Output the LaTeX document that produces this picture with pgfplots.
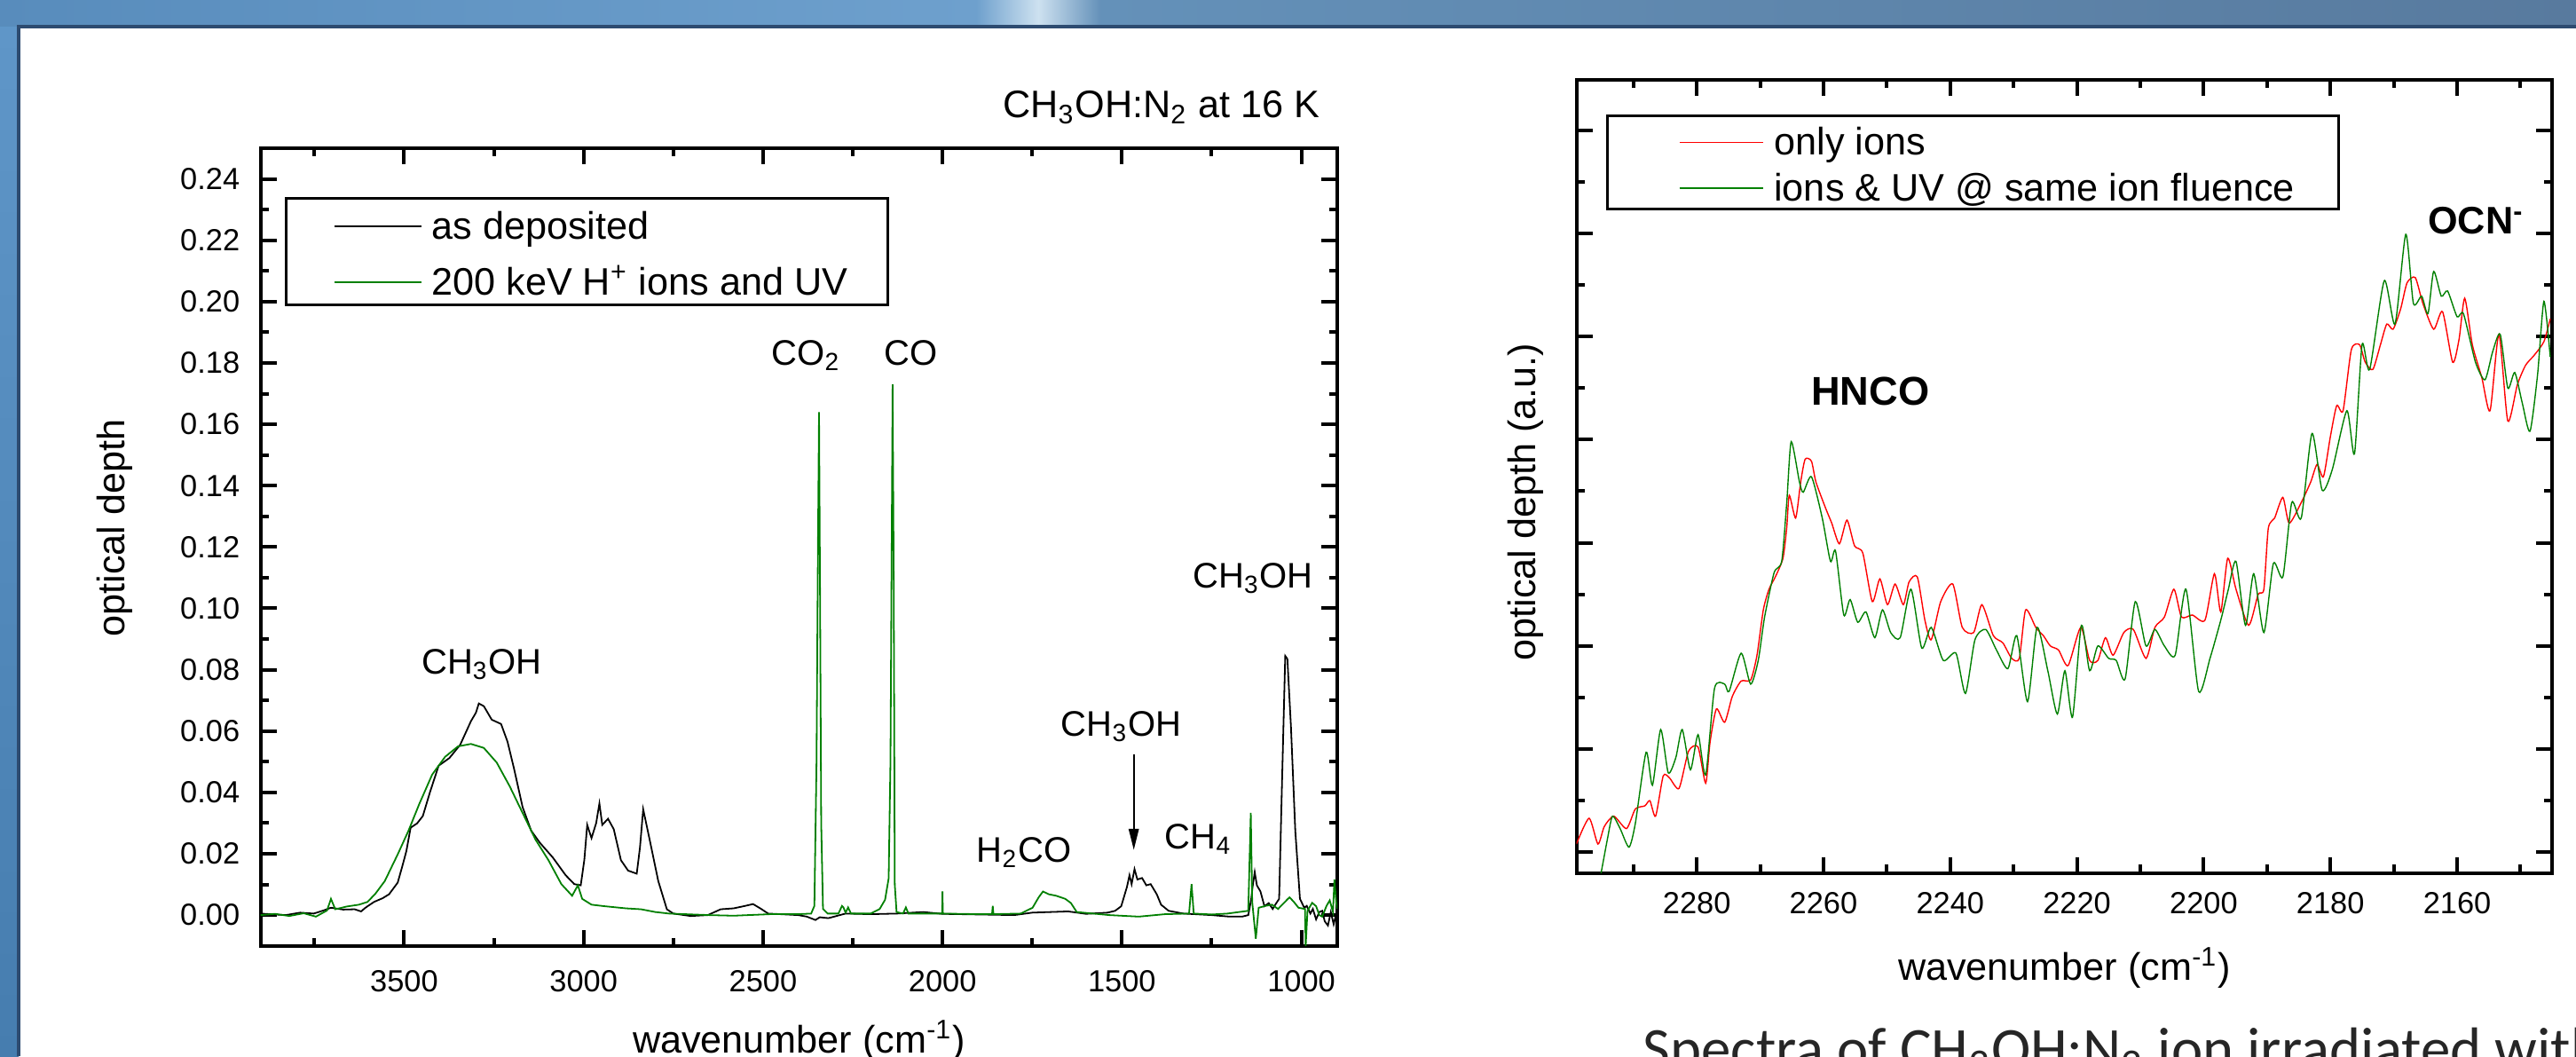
\documentclass[border=0pt]{standalone}
\usepackage{pgfplots}
\pgfplotsset{compat=1.18}
\usetikzlibrary{arrows.meta}
\usepackage{fontspec}
\setmainfont{Liberation Sans}
\newfontfamily\slidefont{Carlito}
\newcommand{\fs}[1]{\fontsize{#1}{#1}\selectfont}

\definecolor{spgreen}{RGB}{0,128,0}
\definecolor{topA}{RGB}{88,140,188}
\definecolor{topB}{RGB}{110,160,205}
\definecolor{glow}{RGB}{205,225,240}
\definecolor{topC}{RGB}{100,145,185}
\definecolor{topD}{RGB}{88,122,158}
\definecolor{sideA}{RGB}{95,150,200}
\definecolor{sideB}{RGB}{70,125,175}
\definecolor{rim}{RGB}{45,75,112}

\pgfplotsset{
  originbox/.style={
    scale only axis, tick align=inside, tick pos=both,
    axis line style={line width=1pt},
    tick style={line width=1pt, black},
    major tick length=4.5pt, minor tick length=2.3pt,
    tick label style={font=\fs{8.6}},
    label style={font=\fs{10.8}},
    /pgf/number format/assume math mode=true,
    /pgf/number format/1000 sep={},
    legend cell align=left,
  },
}

\begin{document}
\begin{tikzpicture}
\path[use as bounding box] (0,0) rectangle (725.75pt,-297.5pt);
\clip (0,0) rectangle (725.75pt,-297.5pt);

% slide background
\fill[sideB] (0,0) rectangle (725.75pt,-297.5pt);
\shade[left color=topA, right color=topB] (0,0) rectangle (275pt,-7.5pt);
\shade[left color=topB, right color=glow] (275pt,0) rectangle (292.5pt,-7.5pt);
\shade[left color=glow, right color=topC] (292.5pt,0) rectangle (310pt,-7.5pt);
\shade[left color=topC, right color=topD] (310pt,0) rectangle (725.75pt,-7.5pt);
\shade[top color=sideA, bottom color=sideB] (0,-7.5pt) rectangle (5.25pt,-297.5pt);
\fill[white] (5.25pt,-7.5pt) rectangle (725.75pt,-297.5pt);
\draw[rim, line width=0.8pt] (5.25pt,-297.5pt) -- (5.25pt,-7.5pt) -- (725.75pt,-7.5pt);

% ---------------- left panel ----------------
\begin{axis}[originbox,
  at={(73.43pt,-41.75pt)}, anchor=north west,
  width=303.33pt, height=224.75pt,
  x dir=reverse, xmin=900, xmax=3900, ymin=-0.0101, ymax=0.25,
  xtick={1000,1500,...,3500}, minor xtick={1250,1750,...,3750},
  ytick={0,0.02,...,0.241}, minor ytick={0.01,0.03,...,0.231},
  yticklabel style={/pgf/number format/fixed, /pgf/number format/fixed zerofill,
    /pgf/number format/precision=2, xshift=-2.35pt},
  xticklabel style={yshift=-3.25pt},
  xlabel={wavenumber (cm\textsuperscript{-1})},
  xlabel style={at={(axis description cs:0.5,0)}, anchor=base, yshift=-30pt},
  ylabel={optical depth},
  ylabel style={at={(axis description cs:-0.1355,0.524)}, anchor=center},
  legend style={at={(0.0225,0.9388)}, anchor=north west, draw=black, line width=0.75pt,
    fill=white, inner xsep=11.3pt, inner ysep=1.75pt, row sep=4.95pt, font=\fs{10.8},
    nodes={inner sep=0pt, text height=9.8pt, text depth=1pt}},
  legend image code/.code={\path[draw=none] (0pt,-0.8pt) -- (29.7pt,-0.8pt);
    \draw[#1] (2.2pt,-0.8pt) -- (26.7pt,-0.8pt);},
]
\addplot[black, line width=0.45pt] coordinates {
(3900,0.0005) (3860,0.0002) (3830,0.0) (3790,0.0008) (3752,0.0005) (3725,0.0015)
(3704,0.0024) (3670,0.0018) (3638,0.0019) (3620,0.0012) (3608,0.0024) (3584,0.0043)
(3560,0.0055) (3542,0.0068) (3518,0.0106) (3505,0.016) (3494,0.0208) (3482,0.0285)
(3464,0.0299) (3448,0.0323) (3428,0.0401) (3404,0.0487) (3374,0.0512) (3344,0.0555)
(3314,0.0632) (3300,0.066) (3292,0.0690) (3278,0.0681) (3256,0.0637) (3230,0.0623)
(3212,0.0565) (3194,0.0478) (3170,0.0352) (3146,0.0275) (3122,0.0236) (3086,0.0188)
(3050,0.0130) (3026,0.0101) (3008,0.0097) (2998,0.018) (2990,0.0294) (2978,0.0251)
(2965,0.030) (2956,0.0364) (2948,0.0294) (2932,0.0314) (2916,0.0280) (2896,0.0179)
(2876,0.0145) (2852,0.0135) (2843,0.022) (2834,0.0345) (2816,0.0246) (2792,0.0111)
(2768,0.0019) (2750,0.0005) (2702,-0.0003) (2654,0.0) (2618,0.0019) (2582,0.0022)
(2550,0.003) (2528,0.0036) (2505,0.002) (2486,0.0005) (2402,0.0) (2378,-0.0005)
(2354,-0.0016) (2342,-0.0007) (2318,-0.001) (2270,0.0005) (2200,0.0003) (2126,0.0005)
(2054,0.001) (2000,0.0004) (1900,0.0002) (1800,0.0) (1750,0.0008) (1700,0.001)
(1650,0.0012) (1600,0.0004) (1540,0.0008) (1519,0.0014) (1502,0.0029) (1486,0.0092)
(1479,0.013) (1473,0.0101) (1465,0.015) (1457,0.0116) (1444,0.0121) (1432,0.0097)
(1420,0.0101) (1403,0.0068) (1391,0.0034) (1370,0.0014) (1329,0.0005) (1250,0.0)
(1200,-0.0005) (1165,-0.0005) (1148,0.0) (1140,0.005) (1136,0.0092) (1130,0.014)
(1124,0.0097) (1114,0.0077) (1103,0.0029) (1091,0.0039) (1080,0.002) (1070,0.0039)
(1062,0.0053) (1054,0.043) (1045,0.0845) (1039,0.0835) (1029,0.0613) (1017,0.0275)
(1004,0.0053) (992,0.0024) (985,0.003) (975,0.0005) (968,0.002) (959,-0.0014)
(950,0.001) (942,0.0014) (935,-0.002) (926,-0.0034) (918,0.001) (910,-0.003)
(905,-0.0005) (900,0.001)
};
\addlegendentry{as deposited}
\addplot[spgreen, line width=0.45pt] coordinates {
(3900,0.0) (3860,0.0004) (3820,-0.0003) (3780,0.0006) (3746,-0.0005) (3715,0.0015)
(3704,0.0053) (3692,0.0019) (3660,0.0028) (3626,0.0034) (3602,0.0043) (3580,0.007)
(3554,0.0111) (3518,0.0198) (3488,0.0275) (3458,0.0362) (3422,0.0458) (3386,0.0516)
(3350,0.0550) (3314,0.0558) (3278,0.0545) (3242,0.0497) (3206,0.0420) (3170,0.0333)
(3134,0.0246) (3098,0.0179) (3062,0.0101) (3032,0.0063) (3016,0.0097) (3004,0.0053)
(2978,0.0034) (2942,0.0029) (2882,0.0022) (2840,0.0019) (2800,0.001) (2762,0.0005)
(2650,0.0) (2582,-0.0002) (2480,0.0003) (2402,0.0003) (2366,0.0005) (2357,0.003)
(2351,0.05) (2347,0.12) (2344,0.164) (2341,0.10) (2338,0.03) (2333,0.002)
(2320,0.0005) (2290,0.0005) (2280,0.003) (2276,0.0025) (2270,0.0008) (2263,0.0025)
(2255,0.0005) (2200,0.0005) (2175,0.002) (2160,0.005) (2150,0.012) (2145,0.05)
(2142,0.112) (2139,0.173) (2136,0.11) (2133,0.01) (2128,0.001) (2110,0.0005)
(2102,0.0025) (2095,0.0005) (2020,0.0005) (2001,0.0005) (2000,0.0077) (1999,0.0005)
(1900,0.0003) (1862,0.0003) (1860,0.003) (1858,0.0003) (1782,0.0005) (1749,0.0024)
(1732,0.0058) (1720,0.0077) (1704,0.0068) (1683,0.0063) (1658,0.0053) (1642,0.0039)
(1626,0.001) (1535,0.0) (1453,-0.0005) (1380,0.0003) (1313,0.0005) (1306,0.0101)
(1300,0.0005) (1250,0.0002) (1206,0.0005) (1148,0.0014) (1141,0.0333) (1137,0.0043)
(1127,-0.0077) (1119,0.0024) (1100,0.003) (1082,0.0034) (1065,0.002) (1049,0.0039)
(1040,0.005) (1033,0.0058) (1021,0.0043) (1008,0.0024) (990,0.002) (988,-0.0101)
(983,0.0014) (970,0.004) (959,0.0029) (950,0.0) (942,-0.0005) (930,0.003)
(921,0.0048) (912,0.001) (908,0.0116) (903,0.0043) (900,0.002)
};
\addlegendentry{200 keV H\textsuperscript{+} ions and UV}

\node[anchor=base, font=\fs{10}] at (axis cs:3284,0.0787) {CH\textsubscript{3}OH};
\node[anchor=base, font=\fs{10}] at (axis cs:2380,0.1792) {CO\textsubscript{2}};
\node[anchor=base, font=\fs{10}] at (axis cs:2088,0.1792) {CO};
\node[anchor=base, font=\fs{10}] at (axis cs:1135,0.1066) {CH\textsubscript{3}OH};
\node[anchor=base, font=\fs{10}] at (axis cs:1502,0.0583) {CH\textsubscript{3}OH};
\node[anchor=base, font=\fs{10}] at (axis cs:1773,0.0172) {H\textsubscript{2}CO};
\node[anchor=base, font=\fs{10}] at (axis cs:1287,0.0217) {CH\textsubscript{4}};
\draw[line width=0.6pt, -{Triangle[length=6pt,width=2.8pt]}]
  (axis cs:1467,0.0524) -- (axis cs:1467,0.0212);
\end{axis}
\node[anchor=base east, inner sep=0pt, font=\fs{10.8}] at (372pt,-33.2pt)
  {CH\textsubscript{3}OH:N\textsubscript{2} at 16 K};

% ---------------- right panel ----------------
\begin{axis}[originbox,
  at={(444.13pt,-22.4pt)}, anchor=north west,
  width=274.9pt, height=223.5pt,
  x dir=reverse, xmin=2145, xmax=2299, ymin=-0.2, ymax=7.49,
  xtick={2160,2180,...,2280}, minor xtick={2150,2170,...,2290},
  ytick={0,1,...,7}, minor ytick={0.5,1.5,...,6.5}, yticklabels={},
  xticklabel style={yshift=-2pt},
  xlabel={wavenumber (cm\textsuperscript{-1})},
  xlabel style={at={(axis description cs:0.5,0)}, anchor=base, yshift=-30.1pt},
  ylabel={optical depth (a.u.)},
  ylabel style={at={(axis description cs:-0.0524,0.4676)}, anchor=center},
  legend style={at={(0.0307,0.9563)}, anchor=north west, draw=black, line width=0.75pt,
    fill=white, inner xsep=12.4pt, inner ysep=1.35pt, row sep=2.1pt, font=\fs{10.8},
    nodes={inner sep=0pt, text height=9.8pt, text depth=1pt}},
  legend image code/.code={\path[draw=none] (0pt,-0.8pt) -- (34.5pt,-0.8pt);
    \draw[#1] (7.8pt,-0.8pt) -- (31.3pt,-0.8pt);},
]
\addplot[red, line width=0.35pt, smooth, tension=0.4] coordinates {
(2299,0.08) (2297,0.33) (2295.6,0.08) (2294.6,0.25) (2293.1,0.35) (2291.1,0.23)
(2289.7,0.42) (2288.2,0.45) (2287.4,0.50) (2286.5,0.35) (2285.3,0.74) (2284.3,0.72)
(2282.8,0.62) (2281.3,0.98) (2279.8,1.02) (2278.6,0.67) (2277.9,1.07) (2276.9,1.39)
(2275.6,1.26) (2274.4,1.51) (2273.0,1.66) (2271.5,1.67) (2270.5,1.91) (2269.5,2.35)
(2268.6,2.55) (2267.6,2.67) (2266.4,2.85) (2265.8,3.15) (2265.4,3.46) (2264.4,3.24)
(2263.6,3.59) (2262.9,3.81) (2261.9,3.79) (2261.2,3.59) (2259.7,3.34) (2258.7,3.19)
(2257.5,2.99) (2256.3,3.22) (2255.1,2.97) (2253.8,2.90) (2252.3,2.43) (2251.1,2.65)
(2249.9,2.40) (2248.7,2.60) (2247.4,2.40) (2246.5,2.62) (2245.2,2.67) (2244.0,2.25)
(2243.0,2.06) (2241.5,2.43) (2239.6,2.60) (2238.1,2.18) (2236.3,2.13) (2235.0,2.40)
(2233.2,2.10) (2231.7,2.03) (2230.3,1.88) (2229.1,1.88) (2228.1,2.35) (2226.5,2.18)
(2225.3,2.10) (2224.2,2.00) (2222.9,1.96) (2221.4,1.81) (2219.4,2.18) (2218.0,1.86)
(2216.7,1.86) (2215.5,2.08) (2214.3,1.91) (2212.6,2.13) (2211.1,2.16) (2209.1,1.88)
(2207.7,2.18) (2206.2,2.28) (2204.7,2.55) (2203.5,2.28) (2201.8,2.30) (2199.8,2.25)
(2198.3,2.70) (2197.3,2.33) (2196.2,2.85) (2194.9,2.55) (2192.9,2.20) (2191.4,2.50)
(2190.5,2.55) (2189.8,3.14) (2188.8,3.24) (2187.5,3.44) (2186.5,3.19) (2184.6,3.39)
(2183.1,3.59) (2182.1,3.76) (2181.1,3.64) (2180.0,4.03) (2179.0,4.33) (2178.0,4.28)
(2176.7,4.87) (2175.4,4.92) (2174.5,4.75) (2173.3,4.68) (2172.1,4.92) (2171.1,5.12)
(2170.1,5.07) (2168.9,5.27) (2167.9,5.52) (2166.6,5.57) (2165.4,5.32) (2163.7,5.07)
(2162.3,5.24) (2160.7,4.75) (2159.7,4.97) (2158.8,5.37) (2157.6,4.92) (2156.1,4.60)
(2154.8,4.28) (2153.4,5.02) (2152.0,4.18) (2150.5,4.53) (2149.2,4.72) (2147.8,4.82)
(2146.3,4.95) (2145.3,5.17)
};
\addlegendentry{only ions}
\addplot[spgreen, line width=0.35pt, smooth, tension=0.4] coordinates {
(2295.7,-0.4) (2294.1,0.13) (2293.3,0.35) (2292.1,0.23) (2290.7,0.05) (2289.7,0.28)
(2288.0,0.97) (2287.0,0.65) (2285.7,1.19) (2284.5,0.77) (2283.3,0.92) (2282.3,1.19)
(2281.0,0.80) (2279.8,1.14) (2278.6,0.75) (2277.2,1.59) (2275.6,1.63) (2274.9,1.56)
(2273.0,1.93) (2271.5,1.63) (2270.3,1.86) (2269.3,2.28) (2267.8,2.71) (2266.6,2.82)
(2265.8,3.39) (2265.1,3.98) (2263.8,3.59) (2263.2,3.49) (2261.9,3.64) (2260.2,3.24)
(2258.9,2.82) (2258.1,2.92) (2256.8,2.30) (2255.8,2.45) (2254.6,2.23) (2253.3,2.33)
(2251.9,2.08) (2250.7,2.35) (2249.4,2.13) (2247.9,2.08) (2246.2,2.55) (2244.5,1.98)
(2243.0,2.18) (2241.1,1.86) (2239.1,1.93) (2237.6,1.54) (2236.1,2.06) (2234.4,2.16)
(2232.7,1.96) (2230.9,1.78) (2229.5,2.10) (2227.8,1.46) (2226.3,2.18) (2224.6,1.76)
(2223.1,1.34) (2221.9,1.76) (2220.7,1.31) (2219.3,2.20) (2218.0,1.76) (2216.7,2.00)
(2215.0,1.88) (2213.8,1.86) (2212.4,1.68) (2210.8,2.43) (2209.1,2.00) (2207.7,2.16)
(2206.2,2.00) (2204.5,1.91) (2202.8,2.55) (2200.8,1.56) (2199.0,1.88) (2197.3,2.25)
(2196.1,2.55) (2194.9,2.82) (2193.4,2.20) (2192.1,2.70) (2190.5,2.13) (2189.0,2.80)
(2187.5,2.67) (2186.1,3.39) (2184.6,3.24) (2182.9,4.06) (2181.3,3.51) (2179.7,3.71)
(2177.4,4.28) (2176.2,3.86) (2175.0,4.92) (2173.8,4.68) (2171.5,5.54) (2169.8,5.12)
(2168.1,5.99) (2166.9,5.32) (2165.6,5.39) (2164.6,5.22) (2163.7,5.63) (2162.5,5.39)
(2161.5,5.44) (2160.0,5.19) (2159.0,5.22) (2157.1,4.75) (2155.6,4.58) (2154.4,4.85)
(2153.2,5.02) (2152.0,4.50) (2150.9,4.65) (2149.7,4.35) (2148.5,4.08) (2147.3,4.63)
(2146.3,5.34) (2145.3,4.80)
};
\addlegendentry{ions \& UV @ same ion fluence}

\node[anchor=base, font=\fs{11.3}\bfseries] at (axis cs:2252.6,4.33) {HNCO};
\node[anchor=base west, inner sep=0pt, font=\fs{10.8}\bfseries] at (axis cs:2164.7,5.99)
  {OCN\textsuperscript{-}};
\end{axis}

% slide caption, cut by the lower edge
\node[anchor=base west, inner sep=0pt, font=\slidefont\fs{16.7}, text=black!85]
  at (462.75pt,-301pt) {Spectra of CH\textsubscript{3}OH:N\textsubscript{2} ion irradiated with};
\end{tikzpicture}
\end{document}
